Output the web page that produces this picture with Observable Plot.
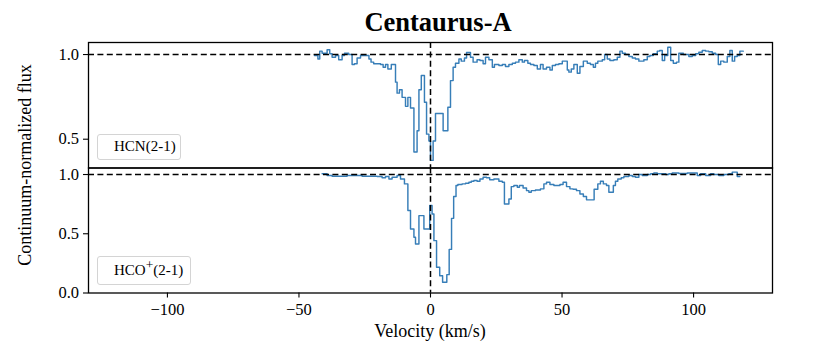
<!DOCTYPE html>
<html>
<head>
<meta charset="utf-8">
<script src="https://cdn.jsdelivr.net/npm/d3@7"></script>
<script src="https://cdn.jsdelivr.net/npm/@observablehq/plot@0.6"></script>
<style>
  body { margin: 0; background: #fff; }
  #chart { position: relative; width: 830px; height: 344px; overflow: hidden;
           font-family: "Liberation Serif", "Times New Roman", serif; color: #000; background: #fff; }
  .txt { position: absolute; white-space: nowrap; line-height: 1; }
  .legend { position: absolute; box-sizing: border-box; border: 1px solid #d4d4d4; border-radius: 3px;
            background: rgba(255,255,255,0.85); display: flex; align-items: center;
            font-size: 15px; padding-left: 16.5px; white-space: nowrap; }
  .legend sup { font-size: 0.9em; line-height: 0; vertical-align: 0.45em; }
  .panel { position: absolute; left: 0; }
</style>
</head>
<body>
<div id="chart"></div>
<script>
// ---- data ----
const chartTitle = "Centaurus-A";
const xLabel = "Velocity (km/s)";
const yLabel = "Continuum-normalized flux";
const xTicks = [-100, -50, 0, 50, 100];
const topYTicks = [0.5, 1.0];
const bottomYTicks = [0.0, 0.5, 1.0];

// HCN(2-1): step start velocities (km/s) and normalized flux
const hcnVelocity = [-44.1,-42.8,-42.1,-41.2,-39.3,-38.3,-37.4,-36.1,-34.9,-33.6,-32.7,-31.1,-29.8,-28.9,-27.9,-26.6,-23.4,-22.6,-21.6,-19.0,-18.0,-17.1,-16.2,-14.9,-13.3,-12.7,-11.8,-10.8,-9.5,-8.6,-7.6,-6.3,-5.1,-4.4,-3.5,-2.3,-1.5,-0.6,0.0,1.0,1.9,4.8,6.6,7.6,8.6,9.5,10.8,11.7,12.9,13.7,15.2,16.2,17.7,18.8,20.0,20.9,22.2,23.5,24.3,26.0,27.3,28.5,29.8,31.1,32.3,33.6,34.9,35.7,37.0,38.0,39.3,40.6,41.8,42.8,44.1,45.4,46.3,47.5,48.8,50.1,52.0,52.6,53.5,54.5,55.8,56.8,58.1,59.6,60.8,61.9,62.7,63.6,65.3,66.2,67.2,68.2,69.7,71.0,72.0,72.9,74.1,75.4,76.7,77.9,79.2,81.1,82.4,83.4,84.7,86.2,87.1,88.1,89.0,90.2,91.3,92.3,93.5,94.4,96.1,98.2,99.5,100.8,102.0,103.3,104.6,105.8,107.1,108.4,109.4,110.3,111.5,112.8,113.8,114.7,115.6,116.6,117.6,118.9];
const hcnFlux = [0.994,0.974,1.020,1.008,1.028,1.004,0.984,0.994,0.969,0.994,1.008,1.000,0.941,0.945,0.980,0.994,0.974,0.955,0.945,0.941,0.925,0.941,0.915,0.941,0.837,0.772,0.792,0.747,0.694,0.747,0.684,0.424,0.550,0.792,0.876,0.718,0.530,0.490,0.375,0.490,0.652,0.550,0.689,0.846,0.925,0.949,0.974,0.961,0.980,1.012,0.984,0.955,0.969,0.965,0.945,0.984,0.969,0.925,0.941,0.935,0.941,0.929,0.941,0.949,0.955,0.969,0.955,0.965,0.949,0.941,0.935,0.915,0.941,0.915,0.925,0.909,0.935,0.941,0.945,0.961,0.909,0.896,0.915,0.941,0.890,0.929,0.961,0.949,0.941,0.925,0.949,0.961,0.969,1.000,0.974,0.965,0.969,0.984,1.020,1.008,1.000,0.988,0.980,0.974,0.961,0.969,0.988,0.994,1.004,1.020,1.024,0.965,0.994,1.043,0.965,0.949,0.955,1.008,1.000,0.988,0.994,1.004,1.014,1.024,1.020,1.016,1.008,1.000,0.941,0.961,0.955,0.988,1.024,0.961,0.988,0.994,1.020,1.020];

// HCO+(2-1)
const hcoVelocity = [-41.2,-39.3,-37.4,-31.7,-26.0,-20.3,-18.4,-17.1,-15.8,-14.6,-12.7,-11.4,-9.9,-8.6,-7.6,-6.3,-5.7,-4.4,-2.5,-0.3,0.6,1.3,2.3,3.5,4.6,6.2,7.1,8.0,8.8,9.7,10.4,12.0,13.3,14.6,15.5,16.5,17.7,18.8,20.0,21.3,22.5,24.1,26.0,27.3,28.1,29.8,30.7,31.7,33.0,33.8,35.2,36.5,37.4,38.3,39.9,41.8,43.1,44.1,45.4,46.9,49.2,50.4,51.7,53.0,54.2,55.5,56.8,58.1,59.3,62.2,63.6,64.6,65.7,66.9,67.8,69.5,70.3,71.2,72.5,73.5,75.4,76.7,77.9,79.2,80.5,82.4,83.7,84.9,86.2,89.4,90.6,91.9,94.4,97.6,101.4,102.7,104.6,106.5,107.7,109.6,111.5,113.4,114.7,116.6,117.6];
const hcoFlux = [1.006,0.991,0.986,0.991,0.986,0.983,0.972,0.983,0.963,0.977,0.991,0.963,0.921,0.696,0.541,0.470,0.414,0.653,0.541,0.738,0.667,0.442,0.217,0.146,0.090,0.155,0.368,0.630,0.815,0.907,0.915,0.921,0.927,0.935,0.943,0.949,0.943,0.963,0.977,0.972,0.955,0.963,0.943,0.935,0.752,0.794,0.898,0.907,0.893,0.907,0.887,0.864,0.850,0.864,0.870,0.879,0.921,0.935,0.915,0.907,0.915,0.935,0.898,0.879,0.875,0.864,0.836,0.814,0.786,0.875,0.921,0.943,0.921,0.907,0.850,0.907,0.943,0.963,0.972,0.983,0.991,0.983,0.977,1.000,0.991,1.000,1.006,1.012,1.006,1.000,1.006,1.012,1.009,1.012,0.991,1.006,0.991,1.006,1.000,0.991,1.000,1.006,1.020,0.983,0.983];

// ---- drawing ----
const chart = document.getElementById("chart");
const lineColor = "#377eb8";
const dash = {stroke: "black", strokeWidth: 1.5, strokeDasharray: "6,3.4"};

function panel(vel, flux, yDomain, yTicks, showX, geom) {
  const data = vel.map((v, i) => ({v, f: flux[i]}));
  const marks = [
    Plot.line(data, {x: "v", y: "f", curve: "step-after", stroke: lineColor, strokeWidth: 1.45}),
    Plot.ruleY([1], dash),
    Plot.ruleX([0], dash),
    Plot.axisY({ticks: yTicks, tickFormat: d => d.toFixed(1), tickSize: 5, tickPadding: 4.5,
                label: null, fontSize: 16.5, stroke: "black", strokeWidth: 1.1})
  ];
  if (showX) {
    marks.push(Plot.axisX({ticks: xTicks, tickSize: 5, tickPadding: 5, label: null,
                           fontSize: 16.5, stroke: "black", strokeWidth: 1.1}));
  }
  marks.push(Plot.frame({stroke: "black", strokeWidth: 1.3}));
  const svg = Plot.plot({
    width: 830, height: geom.height,
    marginTop: geom.mt, marginBottom: geom.mb, marginLeft: 88, marginRight: 58,
    x: {domain: [-130, 130], axis: null},
    y: {domain: yDomain, axis: null},
    style: {fontFamily: '"Liberation Serif", "Times New Roman", serif', fontSize: "16.5px",
            color: "black", background: "transparent", overflow: "visible"},
    marks
  });
  svg.classList.add("panel");
  svg.style.top = geom.top + "px";
  return svg;
}

chart.appendChild(panel(hcnVelocity, hcnFlux, [0.330, 1.071], topYTicks, false,
  {top: 0, height: 170, mt: 42, mb: 2.5}));
chart.appendChild(panel(hcoVelocity, hcoFlux, [0, 1.055], bottomYTicks, true,
  {top: 160, height: 184, mt: 7.5, mb: 51.5}));

function addText(html, x, y, css, rotate) {
  const d = document.createElement("div");
  d.className = "txt";
  d.innerHTML = html;
  d.style.left = x + "px";
  d.style.top = y + "px";
  d.style.transform = "translate(-50%,-50%)" + (rotate ? " rotate(-90deg)" : "");
  Object.assign(d.style, css || {});
  chart.appendChild(d);
}
addText(chartTitle, 438, 21.5, {fontSize: "26.5px", fontWeight: "bold"});
addText(xLabel, 430, 331, {fontSize: "18px"});
addText(yLabel, 25, 165, {fontSize: "18px"}, true);

function addLegend(html, left, top, w, h) {
  const d = document.createElement("div");
  d.className = "legend";
  d.innerHTML = "<span>" + html + "</span>";
  Object.assign(d.style, {left: left + "px", top: top + "px", width: w + "px", height: h + "px"});
  chart.appendChild(d);
}
addLegend("HCN(2-1)", 96.5, 133.5, 84.5, 26.5);
addLegend("HCO<sup>+</sup>(2-1)", 96.5, 256, 94.5, 29);
</script>
</body>
</html>
